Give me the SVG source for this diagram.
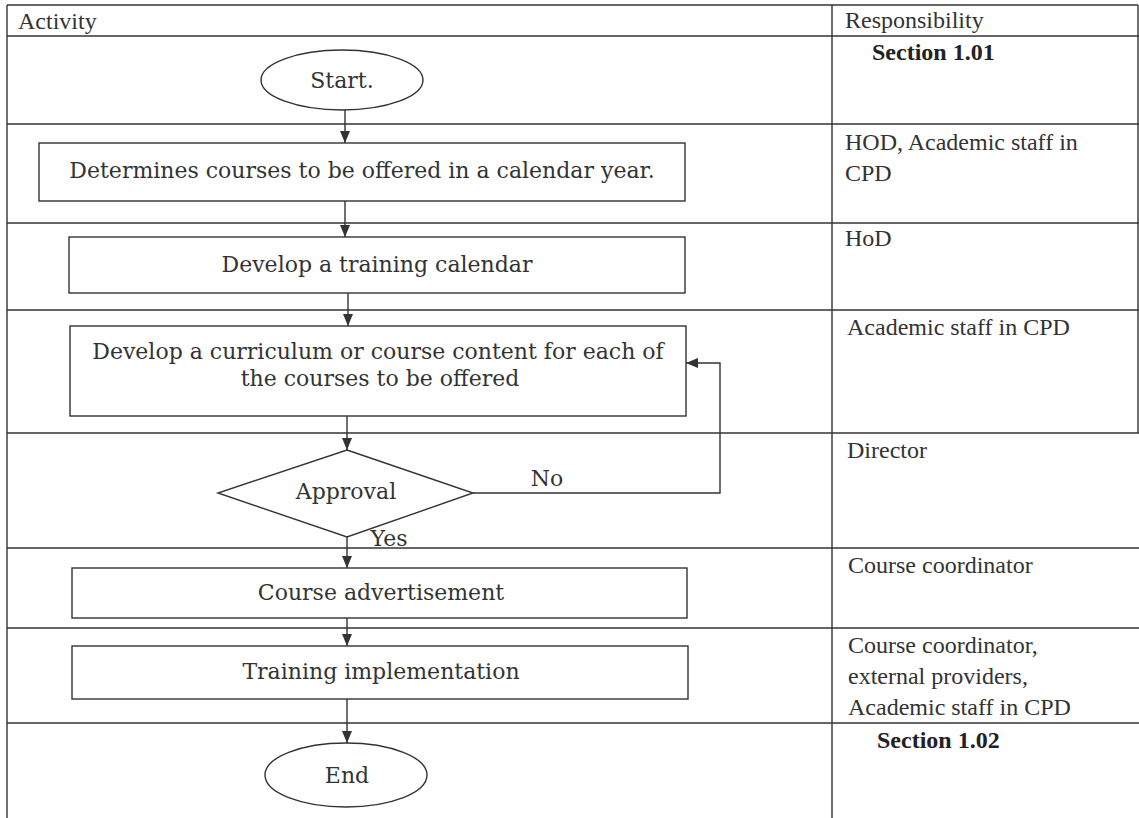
<svg xmlns="http://www.w3.org/2000/svg" width="1139" height="818" viewBox="0 0 1139 818">
  <style>
    .grid { stroke: #333; stroke-width: 1.4; fill: none; }
    .shape { stroke: #333; stroke-width: 1.4; fill: #fff; }
    .conn { stroke: #333; stroke-width: 1.4; fill: none; }
    .ft { font-family: "DejaVu Serif", serif; font-size: 22px; fill: #333; text-anchor: middle; }
    .rt { font-family: "Liberation Serif", serif; font-size: 24px; fill: #333; }
    .rb { font-family: "Liberation Serif", serif; font-size: 24px; fill: #222; font-weight: bold; }
  </style>
  <defs>
    <marker id="arrow" markerUnits="userSpaceOnUse" viewBox="0 0 12 10" markerWidth="12" markerHeight="10" refX="12" refY="5" orient="auto">
      <path d="M0,0 L12,5 L0,10 z" fill="#333"/>
    </marker>
  </defs>
  <rect width="1139" height="818" fill="#fff"/>

  <g id="table">
    <line class="grid" x1="7" y1="5" x2="1138" y2="5"/>
    <line class="grid" x1="7" y1="5" x2="7" y2="818"/>
    <line class="grid" x1="1138" y1="5" x2="1138" y2="433"/>
    <line class="grid" x1="832" y1="5" x2="832" y2="818"/>
    <line class="grid" x1="7" y1="36" x2="1139" y2="36"/>
    <line class="grid" x1="7" y1="124" x2="1139" y2="124"/>
    <line class="grid" x1="7" y1="223" x2="1139" y2="223"/>
    <line class="grid" x1="7" y1="310" x2="1139" y2="310"/>
    <line class="grid" x1="7" y1="433" x2="1139" y2="433"/>
    <line class="grid" x1="7" y1="548" x2="1139" y2="548"/>
    <line class="grid" x1="7" y1="628" x2="1139" y2="628"/>
    <line class="grid" x1="7" y1="723" x2="1139" y2="723"/>
    <text class="rt" x="18" y="29">Activity</text>
    <text class="rt" x="845" y="28">Responsibility</text>
  </g>

  <g id="responsibility">
    <text class="rb" x="872" y="60">Section 1.01</text>
    <text class="rt" x="845" y="150">HOD, Academic staff in</text>
    <text class="rt" x="845" y="181">CPD</text>
    <text class="rt" x="845" y="246">HoD</text>
    <text class="rt" x="847" y="335">Academic staff in CPD</text>
    <text class="rt" x="847" y="458">Director</text>
    <text class="rt" x="848" y="573">Course coordinator</text>
    <text class="rt" x="848" y="653">Course coordinator,</text>
    <text class="rt" x="848" y="684">external providers,</text>
    <text class="rt" x="848" y="715">Academic staff in CPD</text>
    <text class="rb" x="877" y="748">Section 1.02</text>
  </g>

  <g id="connectors">
    <line class="conn" x1="345" y1="110" x2="345" y2="143" marker-end="url(#arrow)"/>
    <line class="conn" x1="345" y1="201" x2="345" y2="237" marker-end="url(#arrow)"/>
    <line class="conn" x1="348" y1="293" x2="348" y2="326" marker-end="url(#arrow)"/>
    <line class="conn" x1="347" y1="416" x2="347" y2="450" marker-end="url(#arrow)"/>
    <line class="conn" x1="347" y1="537" x2="347" y2="568" marker-end="url(#arrow)"/>
    <line class="conn" x1="347" y1="618" x2="347" y2="646" marker-end="url(#arrow)"/>
    <line class="conn" x1="347" y1="699" x2="347" y2="743" marker-end="url(#arrow)"/>
    <polyline class="conn" points="473,493 720,493 720,363 686,363" marker-end="url(#arrow)"/>
    <text class="ft" x="547" y="486">No</text>
    <text class="ft" x="389" y="546">Yes</text>
  </g>

  <g id="node-start">
    <ellipse class="shape" cx="342" cy="80" rx="81" ry="30"/>
    <text class="ft" x="342" y="88">Start.</text>
  </g>
  <g id="node-determine">
    <rect class="shape" x="39" y="143" width="646" height="58"/>
    <text class="ft" x="362" y="178">Determines courses to be offered in a calendar year.</text>
  </g>
  <g id="node-calendar">
    <rect class="shape" x="69" y="237" width="616" height="56"/>
    <text class="ft" x="377" y="272">Develop a training calendar</text>
  </g>
  <g id="node-curriculum">
    <rect class="shape" x="70" y="326" width="616" height="90"/>
    <text class="ft" x="378" y="359">Develop a curriculum or course content for each of</text>
    <text class="ft" x="380" y="386">the courses to be offered</text>
  </g>
  <g id="node-approval">
    <polygon class="shape" points="347,450 473,493 347,537 218,493"/>
    <text class="ft" x="346" y="499">Approval</text>
  </g>
  <g id="node-advert">
    <rect class="shape" x="72" y="568" width="615" height="50"/>
    <text class="ft" x="381" y="600">Course advertisement</text>
  </g>
  <g id="node-implement">
    <rect class="shape" x="72" y="646" width="616" height="53"/>
    <text class="ft" x="381" y="679">Training implementation</text>
  </g>
  <g id="node-end">
    <ellipse class="shape" cx="346" cy="775" rx="81" ry="32"/>
    <text class="ft" x="347" y="783">End</text>
  </g>
</svg>
